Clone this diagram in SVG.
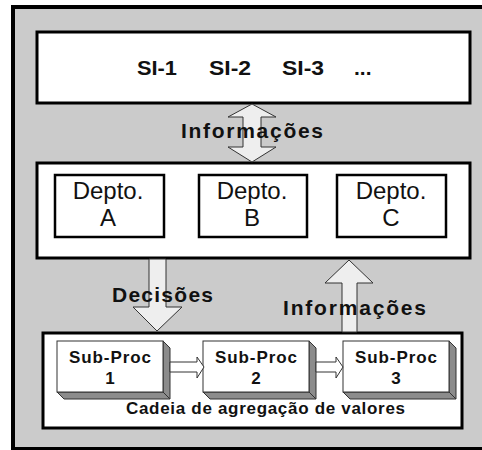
<svg xmlns="http://www.w3.org/2000/svg" width="482" height="450" viewBox="0 0 482 450">
<style>
.bold{font-family:"Liberation Sans",Arial,sans-serif;font-weight:bold;fill:#111}
.reg{font-family:"Liberation Sans",Arial,sans-serif;fill:#111}
.box{fill:#fff;stroke:#000;stroke-width:3}
.dep{fill:#fff;stroke:#000;stroke-width:2.5}
.arr{fill:#eeeeee;stroke:#333;stroke-width:1}
.warr{fill:#fff;stroke:#333;stroke-width:1}
.front{fill:#fff;stroke:#333;stroke-width:1}
.side{fill:#8c8c8c;stroke:#333;stroke-width:1}
</style>
<rect x="13" y="7" width="480" height="442" fill="#cbcbcb" stroke="#000" stroke-width="4"/>
<line x1="13" y1="449" x2="482" y2="449" stroke="#000" stroke-width="1.5"/>

<g id="si">
<rect class="box" x="37" y="32" width="433" height="71"/>
<text class="bold" x="137" y="75" font-size="21" textLength="40" lengthAdjust="spacingAndGlyphs">SI-1</text>
<text class="bold" x="209" y="75" font-size="21" textLength="42" lengthAdjust="spacingAndGlyphs">SI-2</text>
<text class="bold" x="282" y="75" font-size="21" textLength="42" lengthAdjust="spacingAndGlyphs">SI-3</text>
<text class="bold" x="354" y="75" font-size="21">...</text>
</g>

<g id="deptos">
<rect class="box" x="37" y="163" width="433" height="95"/>
</g>
<g id="deptoA">
<rect class="dep" x="55" y="175" width="109" height="62"/>
<text class="reg" x="108" y="199" font-size="24" text-anchor="middle">Depto.</text>
<text class="reg" x="108" y="226" font-size="24" text-anchor="middle">A</text>
</g>
<g id="deptoB">
<rect class="dep" x="199" y="175" width="108" height="62"/>
<text class="reg" x="252" y="199" font-size="24" text-anchor="middle">Depto.</text>
<text class="reg" x="252" y="226" font-size="24" text-anchor="middle">B</text>
</g>
<g id="deptoC">
<rect class="dep" x="337" y="175" width="109" height="62"/>
<text class="reg" x="391" y="199" font-size="24" text-anchor="middle">Depto.</text>
<text class="reg" x="391" y="226" font-size="24" text-anchor="middle">C</text>
</g>

<g id="cadeia">
<rect class="box" x="43" y="333" width="419" height="95"/>
<text class="bold" x="126" y="414" font-size="17" textLength="279" lengthAdjust="spacing">Cadeia de agregação de valores</text>
</g>

<g id="sub1">
<polygon class="side" points="163,341 170,348 170,399 163,392"/>
<polygon class="side" points="57,392 163,392 170,399 64,399"/>
<rect class="front" x="57" y="341" width="106" height="51"/>
<text class="bold" x="69" y="363" font-size="17" textLength="82" lengthAdjust="spacing">Sub-Proc</text>
<text class="bold" x="110" y="384" font-size="17" text-anchor="middle">1</text>
</g>
<g id="sub2">
<polygon class="side" points="309,341 316,348 316,399 309,392"/>
<polygon class="side" points="203,392 309,392 316,399 210,399"/>
<rect class="front" x="203" y="341" width="106" height="51"/>
<text class="bold" x="215" y="363" font-size="17" textLength="82" lengthAdjust="spacing">Sub-Proc</text>
<text class="bold" x="256" y="384" font-size="17" text-anchor="middle">2</text>
</g>
<g id="sub3">
<polygon class="side" points="449,341 456,348 456,399 449,392"/>
<polygon class="side" points="343,392 449,392 456,399 350,399"/>
<rect class="front" x="343" y="341" width="106" height="51"/>
<text class="bold" x="355" y="363" font-size="17" textLength="82" lengthAdjust="spacing">Sub-Proc</text>
<text class="bold" x="396" y="384" font-size="17" text-anchor="middle">3</text>
</g>

<g id="connectors">
<polygon class="arr" points="252,104 276,117 261,117 261,147 276,147 252,162 228,147 243,147 243,117 228,117"/>
<polygon class="arr" points="149,259 166,259 166,307 182,307 157,331 133,307 149,307"/>
<polygon class="arr" points="349,260 373,283 357,283 357,332 342,332 342,283 325,283"/>
<polygon class="warr" points="170,362 197,362 197,357 204,367 197,378 197,372 170,372"/>
<polygon class="warr" points="316,362 336,362 336,357 343,367 336,378 336,372 316,372"/>
</g>

<g id="labels">
<text class="bold" x="181" y="138" font-size="21" textLength="142" lengthAdjust="spacing">Informações</text>
<text class="bold" x="112" y="302" font-size="21" textLength="101" lengthAdjust="spacing">Decisões</text>
<text class="bold" x="283" y="315" font-size="21" textLength="143" lengthAdjust="spacing">Informações</text>
</g>
</svg>
